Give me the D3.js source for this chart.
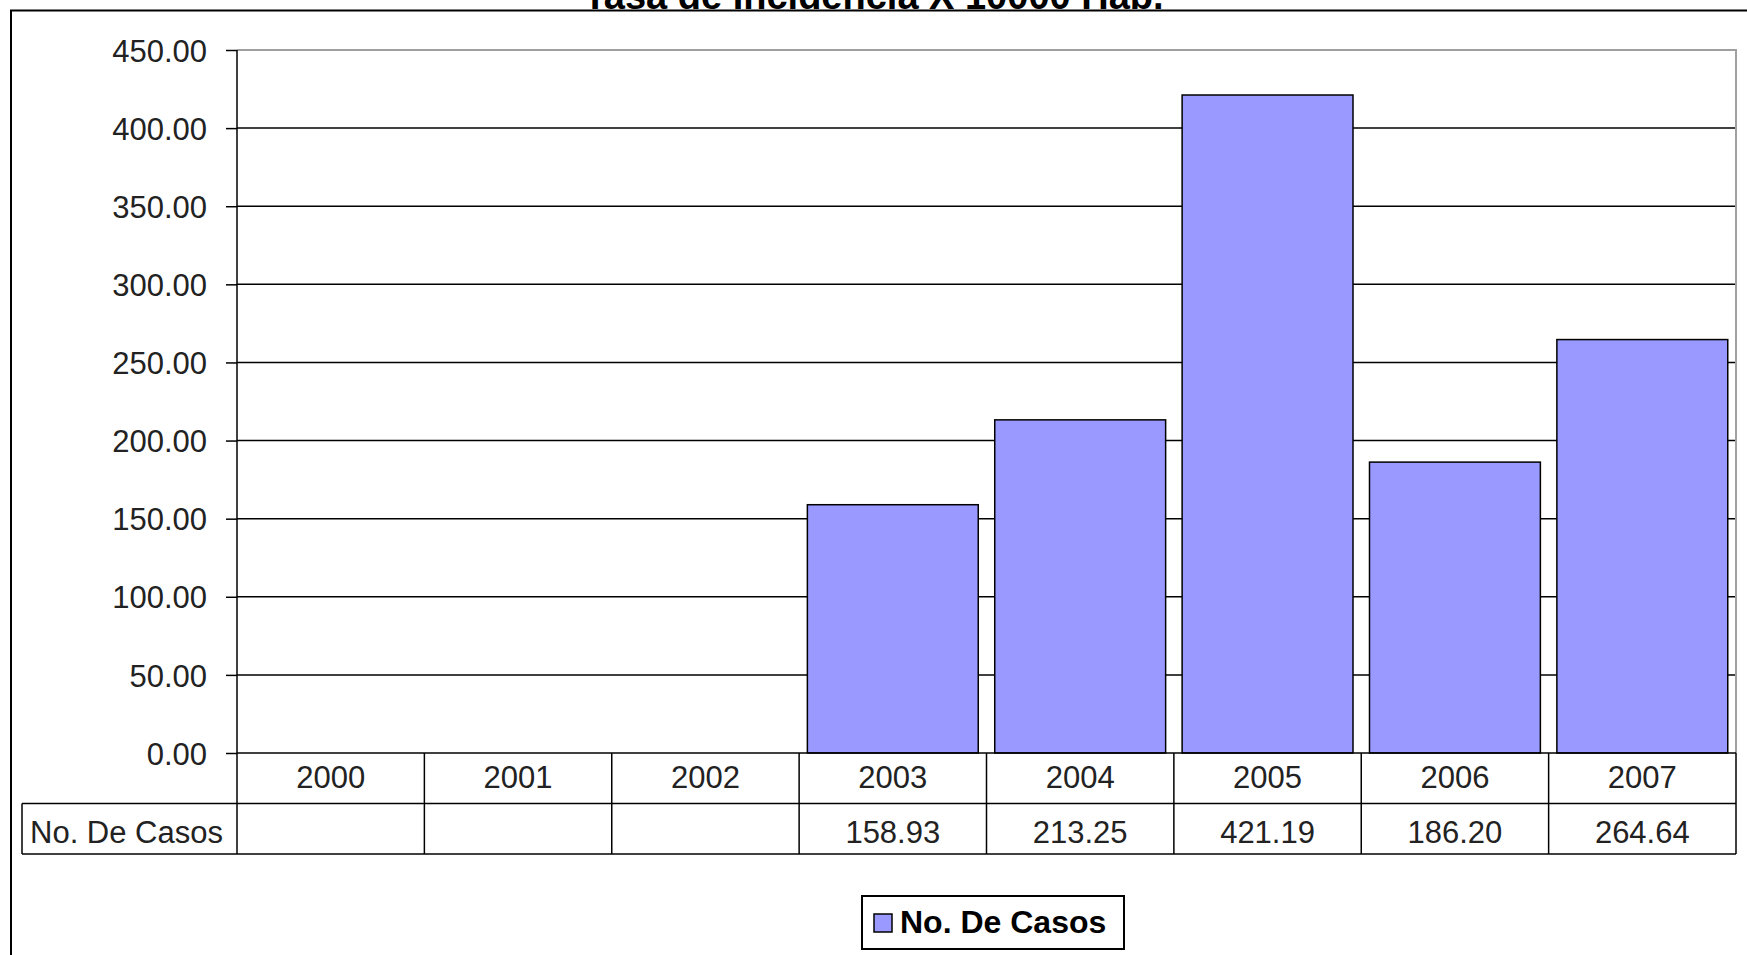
<!DOCTYPE html>
<html><head><meta charset="utf-8">
<script src="https://cdn.jsdelivr.net/npm/d3@7"></script>
<style>
html,body{margin:0;padding:0;background:#fff;overflow:hidden;}
svg{display:block;font-family:"Liberation Sans",Arial,sans-serif;}
</style></head>
<body>
<svg id="c" width="1747" height="955"></svg>
<script>
const title = "Tasa de Incidencia X 10000 Hab.";
const seriesName = "No. De Casos";
const years = ["2000","2001","2002","2003","2004","2005","2006","2007"];
const values = [null, null, null, 158.93, 213.25, 421.19, 186.20, 264.64];
const yTicks = [0, 50, 100, 150, 200, 250, 300, 350, 400, 450];
const barColor = "#9999FF";

const svg = d3.select("#c");
const L = 237, R = 1736, T = 50, B = 753;
const rowH = 50.5;

const x = d3.scaleBand().domain(years).range([L, R]).paddingInner(0.088).paddingOuter(0.044);
const y = d3.scaleLinear().domain([0, 450]).range([B, T]);

// title (partially cut off at the top, as in the reference)
svg.append("text").attr("x", 873.5).attr("y", 9).attr("text-anchor","middle")
  .attr("font-weight","bold").attr("font-size", 38).text(title);

// outer frame (chart area clipped at top/right/bottom)
svg.append("path").attr("d", "M11,955 V10.5 H1747").attr("fill","none")
  .attr("stroke","#000").attr("stroke-width",2);

// gridlines
svg.append("g").selectAll("line").data(yTicks.filter(d => d > 0 && d < 450)).join("line")
  .attr("x1", L).attr("x2", R).attr("y1", d => y(d)).attr("y2", d => y(d))
  .attr("stroke","#000").attr("stroke-width",1.5);

// plot area border top/right (gray)
svg.append("path").attr("d", `M${L},${y(450)} H${R} V${B}`).attr("fill","none")
  .attr("stroke","#a0a0a0").attr("stroke-width",2);

// bars
svg.append("g").selectAll("rect").data(years.map((k,i)=>({k, v: values[i]})).filter(d => d.v != null)).join("rect")
  .attr("x", d => x(d.k)).attr("width", x.bandwidth())
  .attr("y", d => y(d.v)).attr("height", d => y(0) - y(d.v))
  .attr("fill", barColor).attr("stroke","#000").attr("stroke-width",1.5);

// y axis
const ax = svg.append("g").attr("transform", `translate(${L},0)`)
  .call(d3.axisLeft(y).tickValues(yTicks).tickFormat(d3.format(".2f")).tickSize(11).tickPadding(19));
ax.select(".domain").attr("stroke","#000").attr("stroke-width",1.5).attr("d", `M0,${y(450)}V${B}`);
ax.selectAll(".tick line").attr("stroke","#000").attr("stroke-width",1.5);
ax.selectAll(".tick text").attr("font-size",31).attr("fill","#222")
  .attr("font-family","\"Liberation Sans\",Arial,sans-serif").attr("dy","0.36em");

// data table
const tbl = svg.append("g");
const step = x.step();
const colEdges = d3.range(years.length + 1).map(i => L + i * step);
tbl.append("line").attr("x1", L).attr("x2", R).attr("y1", B).attr("y2", B).attr("stroke","#000").attr("stroke-width",1.5);
tbl.append("line").attr("x1", 22).attr("x2", R).attr("y1", B + rowH).attr("y2", B + rowH).attr("stroke","#000").attr("stroke-width",1.5);
tbl.append("line").attr("x1", 22).attr("x2", R).attr("y1", B + 2*rowH).attr("y2", B + 2*rowH).attr("stroke","#000").attr("stroke-width",1.5);
tbl.selectAll("line.v").data(colEdges).join("line").attr("class","v")
  .attr("x1", d => d).attr("x2", d => d).attr("y1", B).attr("y2", B + 2*rowH)
  .attr("stroke","#000").attr("stroke-width",1.5);
tbl.append("line").attr("x1", 22).attr("x2", 22).attr("y1", B + rowH).attr("y2", B + 2*rowH)
  .attr("stroke","#000").attr("stroke-width",1.5);
tbl.selectAll("text.cat").data(years).join("text").attr("class","cat")
  .attr("x", d => x(d) + x.bandwidth()/2).attr("y", B + 35)
  .attr("text-anchor","middle").attr("font-size",31).attr("fill","#222").text(d => d);
tbl.selectAll("text.val").data(years.map((k,i)=>({k, v: values[i]}))).join("text").attr("class","val")
  .attr("x", d => x(d.k) + x.bandwidth()/2).attr("y", B + rowH + 39)
  .attr("text-anchor","middle").attr("font-size",31).attr("fill","#222")
  .text(d => d.v == null ? "" : d3.format(".2f")(d.v));
tbl.append("text").attr("x", 30).attr("y", B + rowH + 39).attr("font-size",31).attr("fill","#222").text(seriesName);

// legend
const lg = svg.append("g");
lg.append("rect").attr("x", 862).attr("y", 896).attr("width", 262).attr("height", 53)
  .attr("fill","#fff").attr("stroke","#000").attr("stroke-width",2);
lg.append("rect").attr("x", 874).attr("y", 914).attr("width", 18).attr("height", 18)
  .attr("fill", barColor).attr("stroke","#000").attr("stroke-width",1.5);
lg.append("text").attr("x", 900).attr("y", 933).attr("font-size",32).attr("font-weight","bold").text(seriesName);
</script>
</body></html>
